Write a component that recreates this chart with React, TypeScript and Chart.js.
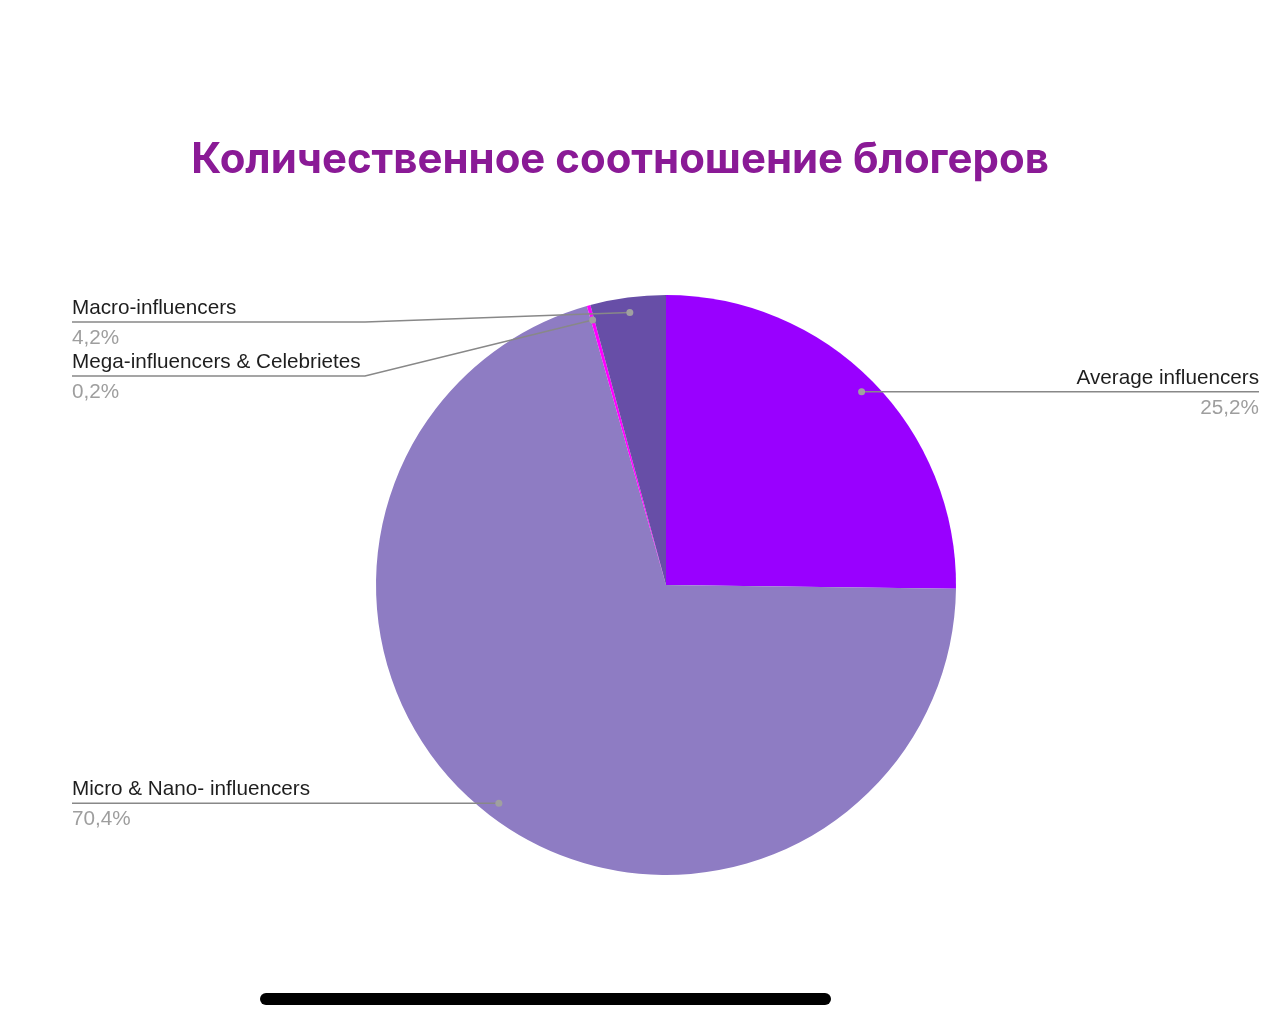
import React, { useEffect, useRef } from "react";
import { Chart, registerables } from "chart.js";

Chart.register(...registerables);

const TITLE = "Количественное соотношение блогеров";
const categories = [
  "Average influencers",
  "Micro & Nano- influencers",
  "Mega-influencers & Celebrietes",
  "Macro-influencers",
];
const values = [25.2, 70.4, 0.2, 4.2];
const valueLabels = ["25,2%", "70,4%", "0,2%", "4,2%"];
const colors = ["#9900ff", "#8e7cc3", "#ff00ff", "#674ea7"];

const W = 1280;
const H = 1025;

const labelPlugin = {
  id: "outLabels",
  afterDraw(chart: any) {
    const ctx = chart.ctx as CanvasRenderingContext2D;
    // title
    ctx.save();
    ctx.fillStyle = "#8a1a96";
    ctx.textAlign = "center";
    ctx.textBaseline = "alphabetic";
    let fs = 36;
    ctx.font = `bold ${fs}px Inter, "Open Sans", sans-serif`;
    const w = ctx.measureText(TITLE).width;
    fs = fs * (858 / w);
    ctx.font = `bold ${fs}px Inter, "Open Sans", sans-serif`;
    ctx.fillText(TITLE, 620, 173);
    ctx.restore();

    const meta = chart.getDatasetMeta(0);
    const items: any[] = [];
    meta.data.forEach((arc: any, i: number) => {
      const { x, y, startAngle, endAngle, outerRadius } = arc.getProps(
        ["x", "y", "startAngle", "endAngle", "outerRadius"],
        true
      );
      const mid = (startAngle + endAngle) / 2;
      const r = outerRadius * 0.948;
      const dx = x + Math.cos(mid) * r;
      const dy = y + Math.sin(mid) * r;
      items.push({ i, dx, dy, right: Math.cos(mid) > 0 });
    });

    const leftX = 72;
    const rightX = 1259;
    const elbowX = 365;
    const spacing = 54;
    const minY = 322;

    const left = items.filter((it) => !it.right).sort((a, b) => a.dy - b.dy);
    const right = items.filter((it) => it.right).sort((a, b) => a.dy - b.dy);
    let prev = -Infinity;
    left.forEach((it) => {
      it.ly = Math.max(it.dy, minY, prev + spacing);
      prev = it.ly;
    });
    prev = -Infinity;
    right.forEach((it) => {
      it.ly = Math.max(it.dy, prev + spacing);
      prev = it.ly;
    });

    ctx.save();
    items.forEach((it) => {
      ctx.strokeStyle = "#888888";
      ctx.lineWidth = 1.5;
      ctx.beginPath();
      if (it.right) {
        ctx.moveTo(rightX, it.ly);
        ctx.lineTo(it.dx, it.ly);
        ctx.lineTo(it.dx, it.dy);
      } else {
        ctx.moveTo(leftX, it.ly);
        if (Math.abs(it.ly - it.dy) > 0.5) {
          ctx.lineTo(elbowX, it.ly);
        }
        ctx.lineTo(it.dx, it.dy);
      }
      ctx.stroke();
      ctx.fillStyle = "#a0a0a0";
      ctx.beginPath();
      ctx.arc(it.dx, it.dy, 3.5, 0, Math.PI * 2);
      ctx.fill();

      ctx.textBaseline = "alphabetic";
      ctx.textAlign = it.right ? "right" : "left";
      const tx = it.right ? rightX : leftX;
      ctx.font = `20.7px "Liberation Sans", Arial, sans-serif`;
      ctx.fillStyle = "#1e1e1e";
      ctx.fillText(categories[it.i], tx, it.ly - 8);
      ctx.fillStyle = "#9e9e9e";
      ctx.fillText(valueLabels[it.i], tx, it.ly + 22);
    });
    ctx.restore();
  },
};

export default function App() {
  const ref = useRef<HTMLCanvasElement>(null);
  useEffect(() => {
    if (!ref.current) return;
    const chart = new Chart(ref.current, {
      type: "pie",
      data: {
        labels: categories,
        datasets: [
          {
            data: values,
            backgroundColor: colors,
            borderWidth: 0,
            hoverOffset: 0,
            offset: 0,
          },
        ],
      },
      options: {
        responsive: false,
        animation: false,
        devicePixelRatio: 1,
        events: [],
        layout: { padding: { left: 376, right: 324, top: 295, bottom: 150 } },
        plugins: {
          legend: { display: false },
          tooltip: { enabled: false },
          title: { display: false },
        },
      },
      plugins: [labelPlugin],
    });
    return () => chart.destroy();
  }, []);
  return (
    <div style={{ position: "fixed", left: 0, top: 0, width: W, height: H, background: "#fff" }}>
      <canvas ref={ref} width={W} height={H} style={{ display: "block" }} />
      <div
        style={{
          position: "absolute",
          left: 260,
          top: 993,
          width: 571,
          height: 12,
          borderRadius: 6,
          background: "#000",
        }}
      />
    </div>
  );
}
